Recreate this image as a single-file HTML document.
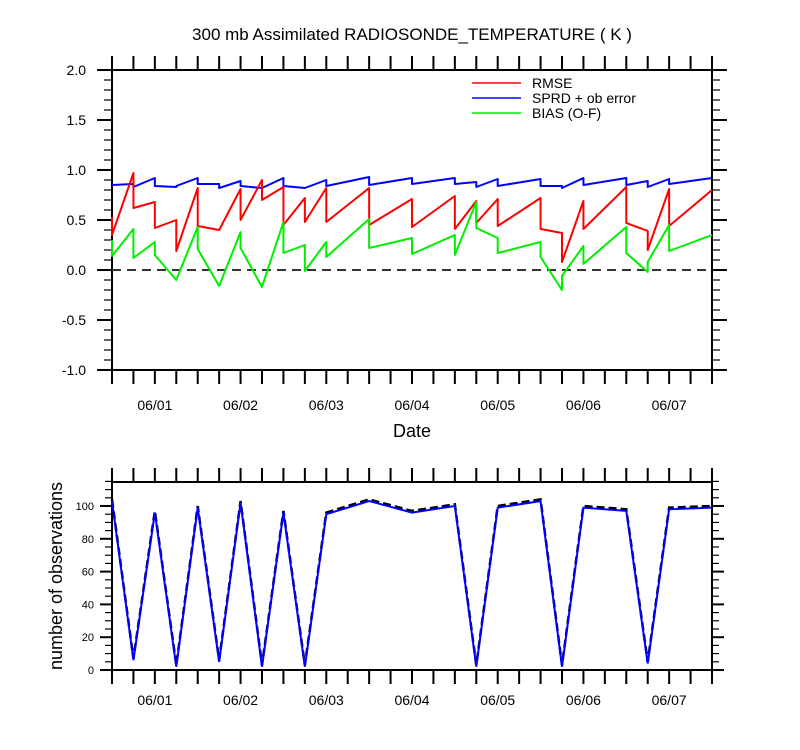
<!DOCTYPE html>
<html><head><meta charset="utf-8"><style>
body{margin:0;background:#fff;}
svg{display:block;font-family:"Liberation Sans",Arial,sans-serif;}
</style></head><body>
<svg id="c" width="800" height="750"></svg>
<script>
const times=[0,1,2,3,4,5,6,7,8,9,10,12,14,16,17,18,20,21,22,24,25,26,28];
const rmsePrior=[0.53,0.97,0.68,0.50,0.82,0.40,0.81,0.90,0.83,0.72,0.82,0.82,0.71,0.74,0.69,0.71,0.72,0.37,0.69,0.83,0.39,0.81,0.80];
const rmsePost=[0.35,0.62,0.42,0.19,0.44,0.40,0.50,0.70,0.45,0.48,0.48,0.45,0.43,0.41,0.47,0.44,0.41,0.08,0.41,0.47,0.20,0.44,0.80];
const sprdPrior=[0.85,0.86,0.92,0.83,0.92,0.86,0.89,0.82,0.92,0.82,0.90,0.93,0.92,0.92,0.88,0.91,0.91,0.84,0.92,0.92,0.89,0.91,0.92];
const sprdPost=[0.85,0.83,0.84,0.84,0.86,0.82,0.84,0.82,0.84,0.82,0.84,0.85,0.86,0.86,0.83,0.84,0.84,0.82,0.85,0.85,0.83,0.86,0.92];
const biasPrior=[0.30,0.41,0.28,-0.10,0.43,-0.16,0.38,-0.17,0.48,0.25,0.28,0.51,0.32,0.35,0.68,0.32,0.28,-0.20,0.24,0.43,-0.02,0.45,0.35];
const biasPost=[0.14,0.12,0.15,-0.10,0.21,-0.16,0.22,-0.17,0.17,-0.01,0.13,0.22,0.16,0.15,0.42,0.17,0.13,-0.06,0.06,0.17,0.08,0.19,0.35];
const obsUsed=[103,6,96,2,99,5,102,2,96,2,95,103,96,100,2,99,103,2,99,97,4,98,99];
const obsPossible=[104,7,97,3,100,6,103,3,97,3,96,104,97,101,3,100,104,3,100,98,5,99,100];
const dateLabels=["06/01","06/02","06/03","06/04","06/05","06/06","06/07"];
const topTicks=["-1.0","-0.5","0.0","0.5","1.0","1.5","2.0"];
const botTicks=["0","20","40","60","80","100"];

const svg=document.getElementById('c');
const NS='http://www.w3.org/2000/svg';
function mk(t,a,p){const e=document.createElementNS(NS,t);for(const k in a)e.setAttribute(k,a[k]);(p||svg).appendChild(e);return e;}
const X0=112,X1=712;
const xs=t=>X0+(X1-X0)*t/28;
const yT=v=>270-100*v;
const yB=v=>670-1.64*v;

let t=mk('text',{x:412,y:40,'font-size':17,'text-anchor':'middle',fill:'#000'});t.textContent='300 mb Assimilated RADIOSONDE_TEMPERATURE ( K )';



function frame(top,bot,name,labOff){
  const g=mk('g',{});
  
  
  mk('rect',{x:X0,y:top,width:X1-X0,height:bot-top,fill:'none',stroke:'#000','stroke-width':2},g);
  for(let i=0;i<=28;i++){const x=xs(i);
    mk('line',{x1:x,y1:top,x2:x,y2:top-14,stroke:'#000','stroke-width':2},g);
    mk('line',{x1:x,y1:bot,x2:x,y2:bot+14,stroke:'#000','stroke-width':2},g);}
  dateLabels.forEach((d,k)=>{const tx=mk('text',{x:xs(2+4*k),y:bot+labOff,'font-size':14,'text-anchor':'middle'},g);tx.textContent=d;
    
    });
  return g;
}
const g1=frame(70,370,'top-panel',40);
for(let v=-10;v<=20;v++){const y=yT(v/10),maj=v%5==0;const L=maj?15:8;
  mk('line',{x1:X0,y1:y,x2:X0-L,y2:y,stroke:'#000','stroke-width':maj?2:1.2},g1);
  mk('line',{x1:X1,y1:y,x2:X1+L,y2:y,stroke:'#000','stroke-width':maj?2:1.2},g1);}
topTicks.forEach(s=>{const tx=mk('text',{x:86,y:yT(parseFloat(s))+5,'font-size':14,'text-anchor':'end'},g1);tx.textContent=s;
  
  });
mk('line',{x1:X0,y1:yT(0),x2:X1,y2:yT(0),stroke:'#333','stroke-width':2,'stroke-dasharray':'9,6'},g1);
t=mk('text',{x:412,y:437,'font-size':18,'text-anchor':'middle'});t.textContent='Date';



function saw(pr,po,col,name){
  let d='';times.forEach((tt,i)=>{const x=xs(tt);d+=(i?'L':'M')+x+' '+yT(pr[i])+'L'+x+' '+yT(po[i]);});
  const p=mk('path',{d:d,fill:'none',stroke:col,'stroke-width':2,'stroke-linejoin':'round'});
  
  
}
saw(sprdPrior,sprdPost,'#0000ff','sprd-line');
saw(rmsePrior,rmsePost,'#ff0000','rmse-line');
saw(biasPrior,biasPost,'#00ee00','bias-line');

const leg=[['RMSE','#ff4444',86],['SPRD + ob error','#4444ff',101],['BIAS (O-F)','#44ee44',116]];
leg.forEach(l=>{const g=mk('g',{});
  
  
  mk('line',{x1:472,y1:l[2]-3,x2:521,y2:l[2]-3,stroke:l[1],'stroke-width':2},g);
  const tx=mk('text',{x:532,y:l[2]+2,'font-size':14},g);tx.textContent=l[0];});

const g2=frame(482,670,'bottom-panel',35);
for(let v=0;v<=115;v+=5){const y=yB(v),maj=v%20==0;const L=maj?12:7;
  mk('line',{x1:X0,y1:y,x2:X0-L,y2:y,stroke:'#000','stroke-width':maj?2:1.2},g2);
  mk('line',{x1:X1,y1:y,x2:X1+L,y2:y,stroke:'#000','stroke-width':maj?2:1.2},g2);}
botTicks.forEach(s=>{const tx=mk('text',{x:94,y:yB(+s)+4,'font-size':11,'text-anchor':'end'},g2);tx.textContent=s;
  
  });
t=mk('text',{x:0,y:0,'font-size':18,'text-anchor':'middle',transform:'translate(62,576) rotate(-90)'});t.textContent='number of observations';


function obsLine(arr,col,dash,name,w){
  const d=times.map((tt,i)=>(i?'L':'M')+xs(tt)+' '+yB(arr[i])).join('');
  const p=mk('path',{d:d,fill:'none',stroke:col,'stroke-width':w,'stroke-dasharray':dash});
  
  
}
obsLine(obsPossible,'#000','8,4','obs-possible-line',2.5);
obsLine(obsUsed,'#0000ff','none','obs-used-line',2);
</script>
</body></html>
